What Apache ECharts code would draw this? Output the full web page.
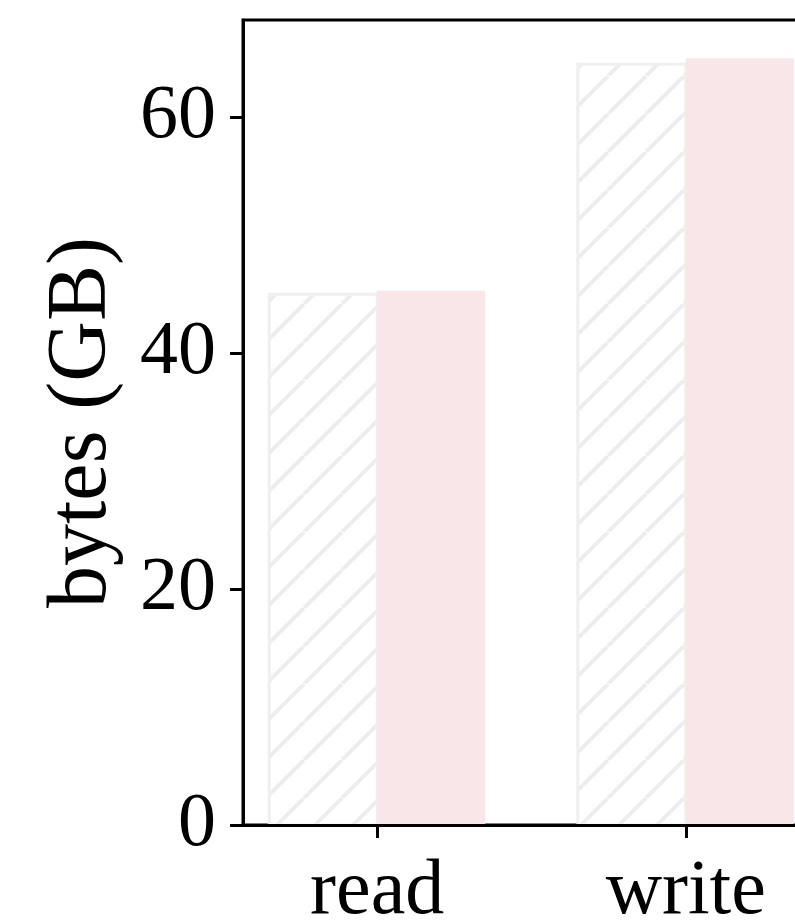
<!DOCTYPE html>
<html>
<head>
<meta charset="utf-8">
<script src="https://cdn.jsdelivr.net/npm/echarts@6/dist/echarts.min.js"></script>
<style>
  html, body { margin: 0; padding: 0; background: #ffffff; }
  #chart { width: 795px; height: 921px; }
</style>
</head>
<body>
<div id="chart"></div>
<script>
// Categories and values (GB)
const categories = ['read', 'write'];
const baselineBytes = [45.0, 64.5];   // hatched bars
const variantBytes = [45.3, 65.0];    // pink bars
const yTicks = [0, 20, 40, 60];
const yName = 'bytes (GB)';

const BAR_W = 0.35;
const FONT = '"Liberation Serif", "DejaVu Serif", serif';

// Diagonal "/" hatch tile
function hatchPattern(size, color, width) {
  const c = document.createElement('canvas');
  c.width = size; c.height = size;
  const g = c.getContext('2d');
  g.fillStyle = '#ffffff';
  g.fillRect(0, 0, size, size);
  g.strokeStyle = color;
  g.lineWidth = width;
  for (let k = -1; k <= 1; k++) {
    g.beginPath();
    g.moveTo(k * size, size);
    g.lineTo(k * size + size, 0);
    g.stroke();
  }
  return { image: c, repeat: 'repeat' };
}
const hatch = hatchPattern(38, '#ededed', 4);

function barRenderer(offset, fill, stroke) {
  return function (params, api) {
    const x = api.value(0) + offset;
    const top = api.coord([x, api.value(1)]);
    const base = api.coord([x, 0]);
    const w = api.size([BAR_W, 0])[0];
    return {
      type: 'rect',
      shape: { x: top[0] - w / 2, y: top[1], width: w, height: base[1] - top[1] },
      style: { fill: fill, stroke: stroke, lineWidth: stroke ? 3 : 0 }
    };
  };
}

const chart = echarts.init(document.getElementById('chart'), null, { renderer: 'canvas' });

chart.setOption({
  animation: false,
  backgroundColor: '#ffffff',
  grid: {
    left: 243, top: 20, bottom: 96, right: -25,
    containLabel: false, outerBoundsMode: 'none',
    show: true, borderColor: '#000000', borderWidth: 3, backgroundColor: 'transparent'
  },
  xAxis: {
    type: 'value',
    min: -0.435, max: 1.435,
    z: 5,
    splitLine: { show: false },
    axisLine: { show: true, onZero: false, lineStyle: { color: '#000', width: 3 } },
    axisTick: { show: true, length: 13, lineStyle: { color: '#000', width: 3 }, customValues: [0, 1] },
    axisLabel: {
      customValues: [0, 1],
      formatter: v => categories[Math.round(v)] || '',
      fontFamily: FONT, fontSize: 78, color: '#000', margin: 29
    }
  },
  yAxis: {
    type: 'value',
    min: 0, max: 68.25,
    z: 5,
    name: yName,
    nameLocation: 'middle',
    nameRotate: 90,
    nameGap: 118,
    nameTextStyle: { fontFamily: FONT, fontSize: 84, color: '#000' },
    splitLine: { show: false },
    axisLine: { show: true, onZero: false, lineStyle: { color: '#000', width: 3 } },
    axisTick: { show: true, length: 13, lineStyle: { color: '#000', width: 3 }, customValues: yTicks },
    axisLabel: {
      customValues: yTicks,
      fontFamily: FONT, fontSize: 76, color: '#000', margin: 27
    }
  },
  series: [
    {
      type: 'custom',
      renderItem: barRenderer(-BAR_W / 2, hatch, '#efefef'),
      data: baselineBytes.map((v, i) => [i, v]),
      clip: false
    },
    {
      type: 'custom',
      renderItem: barRenderer(BAR_W / 2, '#f9e6e8', null),
      data: variantBytes.map((v, i) => [i, v]),
      clip: false
    }
  ]
});
</script>
</body>
</html>
